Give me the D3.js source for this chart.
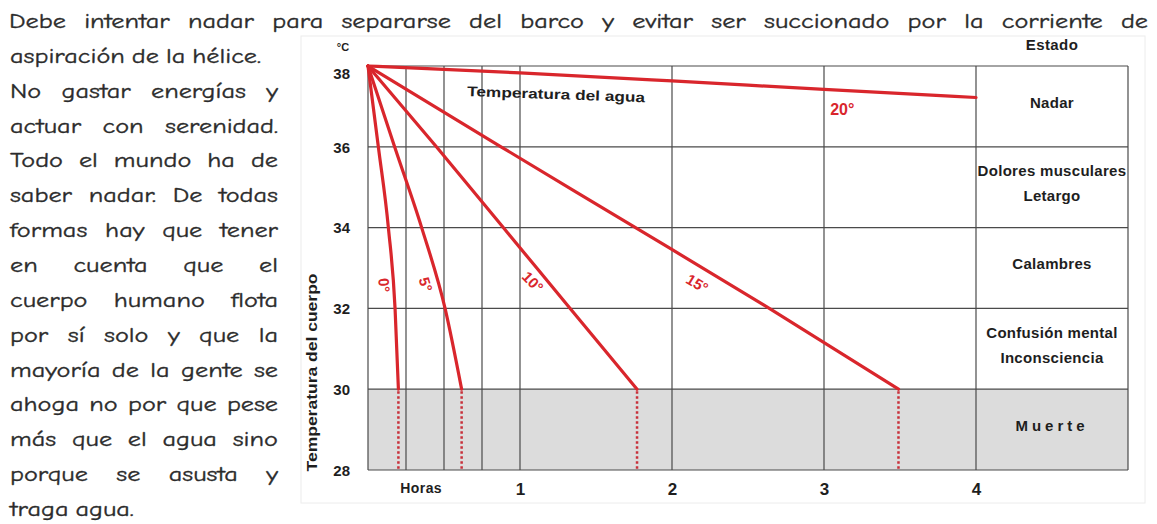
<!DOCTYPE html>
<html>
<head>
<meta charset="utf-8">
<script src="https://cdn.jsdelivr.net/npm/d3@7"></script>
<style>
	html, body { margin: 0; padding: 0; background: #fff; }
	svg { display: block; }
	.para { font-family: "Comic Sans MS", "Comic Neue", "DejaVu Sans", sans-serif; font-size: 21px; fill: #2b2b2b; stroke: #2b2b2b; stroke-width: 0.35px; }
	.lab { font-family: "Liberation Sans", Arial, sans-serif; font-weight: bold; fill: #1e1e1e; }
	.red { font-family: "Liberation Sans", Arial, sans-serif; font-weight: bold; fill: #d9262c; }
</style>
</head>
<body>
<svg id="chart" width="1157" height="524"></svg>
<script>
// paragraph that wraps round the chart
const paraTop = "Debe intentar nadar para separarse del barco y evitar ser succionado por la corriente de";
const paraFirst = "aspiración de la hélice.";
const paraLines = [
	"No gastar energías y",
	"actuar con serenidad.",
	"Todo el mundo ha de",
	"saber nadar. De todas",
	"formas hay que tener",
	"en cuenta que el",
	"cuerpo humano flota",
	"por sí solo y que la",
	"mayoría de la gente se",
	"ahoga no por que pese",
	"más que el agua sino",
	"porque se asusta y"
];
const paraLast = "traga agua.";

// chart data: body temperature (°C) against hours in water
const yTicks = [28, 30, 32, 34, 36, 38];
const hourTicks = [1, 2, 3, 4];
const quarterHours = [0.25, 0.5, 0.75];
const bodyTemps = [38, 36, 34, 32, 30];
const hours0 = [0, 0.068, 0.134, 0.178, 0.2];
const hours5 = [0, 0.175, 0.353, 0.507, 0.616];
const hours10 = [0, 0.45, 0.89, 1.33, 1.77];
const hours15 = [0, 0.875, 1.76, 2.64, 3.49];
const hours20 = [0, 1, 2, 3, 4];
const temps20 = [38, 37.83, 37.63, 37.42, 37.22];
const waterLabels = ["0°", "5°", "10°", "15°", "20°"];
const labelHours = [0.165, 0.455, 1.14, 2.22, 3.12];

const stateBands = [[36, 38], [34, 36], [32, 34], [30, 32], [28, 30]];
const stateNames = [
	["Nadar"],
	["Dolores musculares", "Letargo"],
	["Calambres"],
	["Confusión mental", "Inconsciencia"],
	["Muerte"]
];

const svg = d3.select("#chart");

// ---- text ----
const lineY = i => 28 + 34.85 * i;
const stretch = 1.25;

// words placed one by one, widened a little, gaps spread to fill [x0, x1]
function placeWords(words, x0, x1, yPos, spread) {
	const g = svg.append("g");
	const ts = g.selectAll("text").data(words).join("text")
		.attr("class", "para").attr("y", yPos).text(d => d);
	const widths = ts.nodes().map(n => n.getComputedTextLength() * stretch);
	ts.attr("textLength", (d, i) => widths[i]).attr("lengthAdjust", "spacingAndGlyphs");
	const gap = spread ? (x1 - x0 - d3.sum(widths)) / (words.length - 1) : 7;
	let cx = x0;
	ts.attr("x", (d, i) => {
		const v = cx;
		cx += widths[i] + gap;
		return v;
	});
}

placeWords(paraTop.split(" "), 9, 1148, lineY(0), true);
placeWords(paraFirst.split(" "), 10, 278, lineY(1), false);
paraLines.forEach((l, i) => placeWords(l.split(" "), 10, 278, lineY(i + 2), true));
placeWords(paraLast.split(" "), 10, 278, lineY(paraLines.length + 2), false);

// ---- chart ----
const x = d3.scaleLinear().domain([0, 5]).range([368, 1128]);
const y = d3.scaleLinear().domain([28, 38]).range([470, 66]);

// faint frame of the figure
svg.append("rect")
	.attr("x", 301).attr("y", 36).attr("width", 844).attr("height", 467)
	.attr("fill", "none").attr("stroke", "#ececec");

// death band
svg.append("rect")
	.attr("x", x(0)).attr("y", y(30))
	.attr("width", x(5) - x(0)).attr("height", y(28) - y(30))
	.attr("fill", "#dcdcdc");

const grid = svg.append("g").attr("stroke", "#4a4a4a").attr("stroke-width", 1.2);

grid.selectAll("line.h").data(yTicks).join("line")
	.attr("x1", x(0)).attr("x2", x(5))
	.attr("y1", d => y(d)).attr("y2", d => y(d));

grid.selectAll("line.v").data([0, ...quarterHours, ...hourTicks, 5]).join("line")
	.attr("x1", d => x(d)).attr("x2", d => x(d))
	.attr("y1", y(38)).attr("y2", y(28));

// axes (labels only)
const yAxis = svg.append("g")
	.attr("transform", `translate(${x(0)},0)`)
	.call(d3.axisLeft(y).tickValues(yTicks).tickSize(0).tickPadding(18));
yAxis.select(".domain").remove();
yAxis.selectAll("text").attr("class", "lab").attr("font-size", 15)
	.attr("dy", d => d === 38 ? "0.85em" : "0.35em");

const xAxis = svg.append("g")
	.attr("transform", `translate(0,${y(28)})`)
	.call(d3.axisBottom(x).tickValues(hourTicks).tickFormat(d3.format("d")).tickSize(0).tickPadding(13));
xAxis.select(".domain").remove();
xAxis.selectAll("text").attr("class", "lab").attr("font-size", 17);

svg.append("text").attr("class", "lab").attr("font-size", 14)
	.attr("x", x(0.35)).attr("y", 493).attr("text-anchor", "middle")
	.attr("letter-spacing", 0.4)
	.text("Horas");

svg.append("text").attr("class", "lab").attr("font-size", 11)
	.attr("x", 343).attr("y", 51).attr("text-anchor", "middle")
	.text("°C");

svg.append("text").attr("class", "lab").attr("font-size", 14)
	.attr("transform", `translate(317,${(y(28) + 275) / 2}) rotate(-90)`)
	.attr("text-anchor", "middle")
	.attr("textLength", 198).attr("lengthAdjust", "spacingAndGlyphs")
	.text("Temperatura del cuerpo");

// state column
svg.append("text").attr("class", "lab").attr("font-size", 15)
	.attr("x", (x(4) + x(5)) / 2).attr("y", 50).attr("text-anchor", "middle")
	.attr("letter-spacing", 0.4)
	.text("Estado");

stateBands.forEach((b, i) => {
	const names = stateNames[i];
	const cy = (y(b[0]) + y(b[1])) / 2 - 4;
	svg.selectAll(null).data(names).join("text")
		.attr("class", "lab").attr("font-size", 15)
		.attr("x", (x(4) + x(5)) / 2)
		.attr("y", (d, j) => cy + (j - (names.length - 1) / 2) * 25)
		.attr("dy", "0.35em").attr("text-anchor", "middle")
		.attr("letter-spacing", names[0] === "Muerte" ? 4 : 0.3)
		.text(d => d);
});

// curves
const series = [
	hours0.map((h, i) => [h, bodyTemps[i]]),
	hours5.map((h, i) => [h, bodyTemps[i]]),
	hours10.map((h, i) => [h, bodyTemps[i]]),
	hours15.map((h, i) => [h, bodyTemps[i]]),
	hours20.map((h, i) => [h, temps20[i]])
];

const curve = d3.line()
	.x(d => x(d[0]))
	.y(d => y(d[1]))
	.curve(d3.curveMonotoneX);

svg.append("g").selectAll("path").data(series).join("path")
	.attr("d", curve)
	.attr("fill", "none")
	.attr("stroke", "#d9262c")
	.attr("stroke-width", 3.2)
	.attr("stroke-linejoin", "round")
	.attr("stroke-linecap", "round");

// dotted drop to the bottom for the four that reach 30 °C
svg.append("g").selectAll("line").data(series.slice(0, 4)).join("line")
	.attr("x1", d => x(d[d.length - 1][0])).attr("x2", d => x(d[d.length - 1][0]))
	.attr("y1", y(30) + 2).attr("y2", y(28))
	.attr("stroke", "#c8303a").attr("stroke-width", 2.5)
	.attr("stroke-dasharray", "2.5,2.5");

// labels along the curves
const labelGap = [9, 12, 12, 16, 19];
series.forEach((s, i) => {
	const tAt = d3.scaleLinear().domain(s.map(d => d[0])).range(s.map(d => d[1]));
	const h = labelHours[i];
	const dh = i === 0 ? 0.005 : 0.05;
	const x1 = x(h - dh), y1 = y(tAt(h - dh)), x2 = x(h + dh), y2 = y(tAt(h + dh));
	const ang = i === 4 ? 0 : Math.atan2(y2 - y1, x2 - x1) - (i === 2 ? 0.08 : 0);
	const px = x(h) - Math.sin(ang) * labelGap[i];
	const py = y(tAt(h)) + Math.cos(ang) * labelGap[i];
	svg.append("text").attr("class", "red")
		.attr("font-size", i === 4 ? 16 : 15)
		.attr("text-anchor", "middle").attr("dy", "0.35em")
		.attr("transform", `translate(${px},${py}) rotate(${ang * 180 / Math.PI})`)
		.text(waterLabels[i]);
});

svg.append("text").attr("class", "lab").attr("font-size", 14)
	.attr("x", 467).attr("y", 96)
	.attr("transform", "rotate(2,467,96)")
	.attr("textLength", 178).attr("lengthAdjust", "spacingAndGlyphs")
	.text("Temperatura del agua");
</script>
</body>
</html>
